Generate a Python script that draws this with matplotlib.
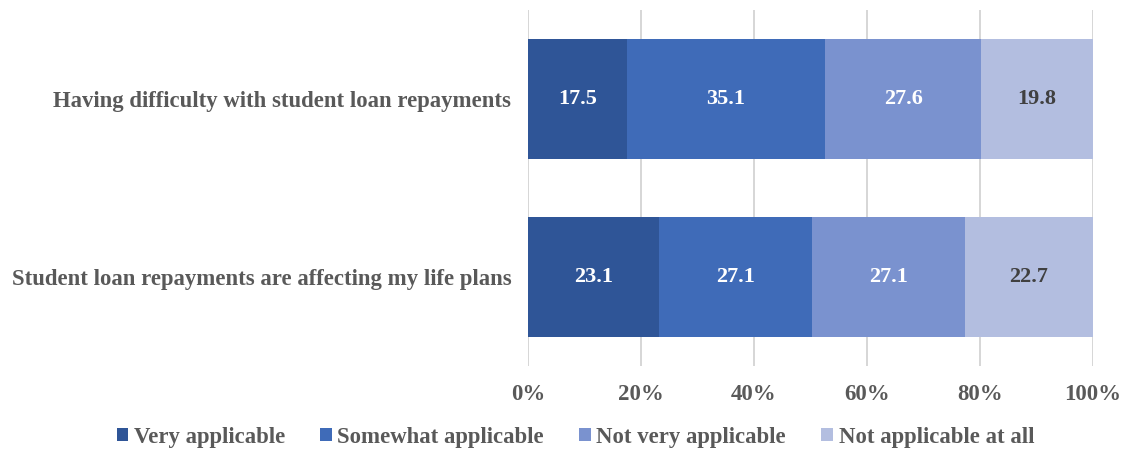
import matplotlib
matplotlib.use('Agg')
import numpy as np
import matplotlib.pyplot as plt

plt.rcParams['font.family'] = ['Liberation Serif', 'DejaVu Serif']
plt.rcParams['font.weight'] = 'bold'

statements = ['Having difficulty with student loan repayments',
              'Student loan repayments are affecting my life plans']
responses = ['Very applicable', 'Somewhat applicable',
             'Not very applicable', 'Not applicable at all']
very = [17.5, 23.1]
somewhat = [35.1, 27.1]
not_very = [27.6, 27.1]
not_at_all = [19.8, 22.7]

colors = ['#2F5597', '#3F6BB8', '#7A92CF', '#B3BEE0']
label_colors = ['white', 'white', 'white', '#404040']
grey = '#595959'

fig = plt.figure(figsize=(11.26, 4.5), dpi=100)
ax = fig.add_axes([0.4689, 0.1867, 0.5018, 0.7911])

y = np.arange(len(statements))
left = np.zeros(len(statements))
for vals, name, c, tc in zip([very, somewhat, not_very, not_at_all],
                             responses, colors, label_colors):
    bars = ax.barh(y, vals, left=left, height=0.67, color=c, label=name, zorder=3)
    ax.bar_label(bars, labels=['%.1f' % v for v in vals], label_type='center',
                 color=tc, fontsize=16, fontweight='bold')
    left += np.array(vals)

ax.set_xlim(0, 100)
ax.set_ylim(1.5, -0.5)
ax.set_xticks(np.arange(0, 101, 20))
ax.set_xticklabels(['%d%%' % t for t in range(0, 101, 20)])
ax.set_yticks(y)
ax.set_yticklabels(statements)
ax.tick_params(length=0, colors=grey)
ax.tick_params(axis='x', pad=13, labelsize=16.5)
ax.tick_params(axis='y', pad=12, labelsize=16.4)
ax.xaxis.grid(True, color='#D0D0D0', linewidth=1.2, zorder=0)
for s in ax.spines.values():
    s.set_visible(False)

leg = fig.legend(loc='center', bbox_to_anchor=(0.511, 0.028), ncol=4,
                 frameon=False, fontsize=16.4, handlelength=0.5, handleheight=0.5,
                 handletextpad=0.25, columnspacing=1.55)
for t in leg.get_texts():
    t.set_color(grey)

fig.savefig('out.png', dpi=100)
